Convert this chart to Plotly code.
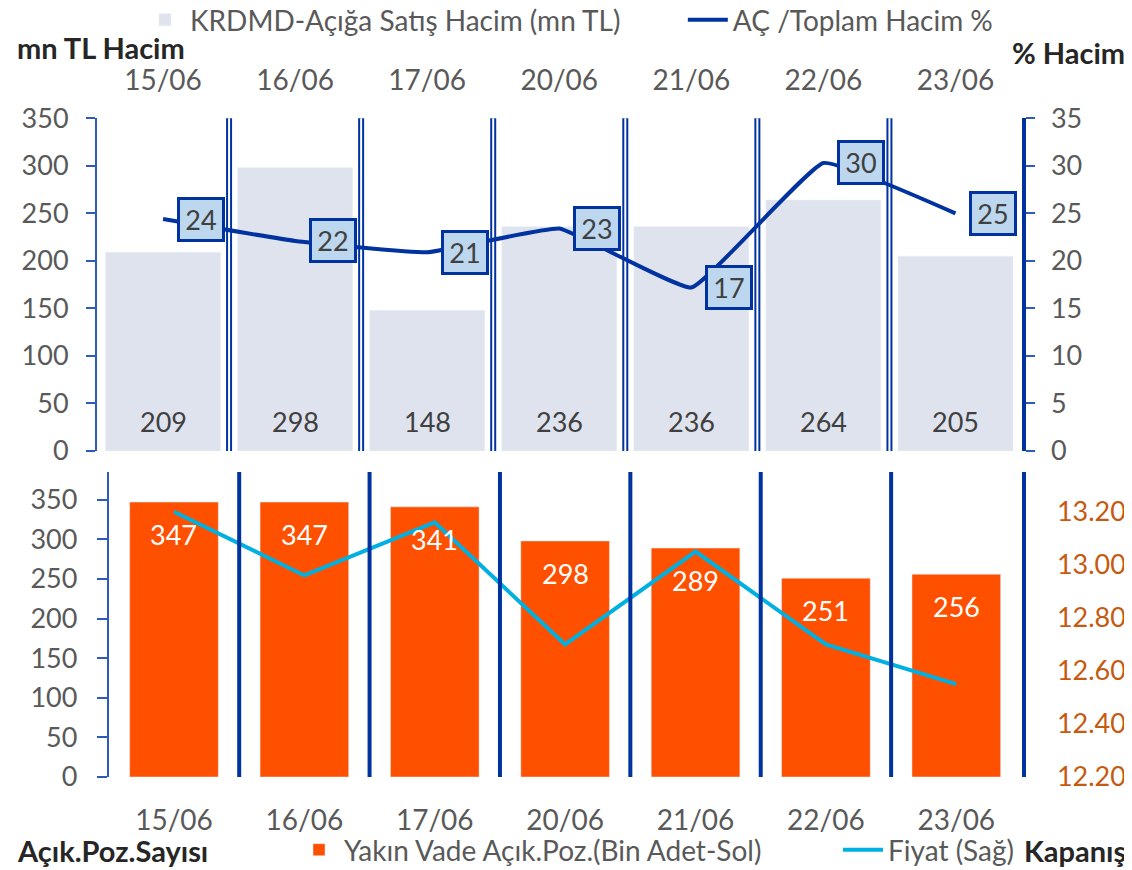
import plotly.graph_objects as go

# dates shown on both panels
dates = ['15/06', '16/06', '17/06', '20/06', '21/06', '22/06', '23/06']

# top panel: short selling volume (mn TL) and share of total volume (%)
short_volume = [209, 298, 148, 236, 236, 264, 205]
short_ratio = [24.4, 22.1, 20.9, 23.4, 17.2, 30.3, 25.0]

# bottom panel: open positions (thousand contracts) and closing price
open_pos = [347, 347, 341, 298, 289, 251, 256]
close_price = [13.20, 12.96, 13.16, 12.70, 13.05, 12.70, 12.55]

W, H = 1132, 870
OFF = 8  # page body margin
FONT = 'Lato'
DARK_BLUE = '#0033A0'
AXIS_BLUE = '#2E5BBA'
GRAY = '#595959'
TXT = '#404040'
NB = '\u00a0'  # spacing between legend entries

xs = list(range(len(dates)))


def px_x(p):
    return (p - OFF) / W


def px_y(p):
    return 1 - (p - OFF) / H


fig = go.Figure()

fig.add_trace(go.Bar(
    x=xs, y=short_volume, name='KRDMD-Açığa Satış Hacim (mn TL)' + NB * 8,
    marker_color='#DFE3EE', width=0.87, xaxis='x', yaxis='y', legend='legend'))
fig.add_trace(go.Scatter(
    x=xs, y=short_ratio, name='AÇ /Toplam Hacim %', mode='lines',
    line=dict(color=DARK_BLUE, width=4, shape='spline', smoothing=0.3),
    xaxis='x', yaxis='y2', legend='legend'))

fig.add_trace(go.Bar(
    x=xs, y=open_pos, name='Yakın Vade Açık.Poz.(Bin Adet-Sol)' + NB * 10,
    marker_color='#FF5000', width=0.68, xaxis='x2', yaxis='y3', legend='legend2'))
fig.add_trace(go.Scatter(
    x=xs, y=close_price, name='Fiyat (Sağ)', mode='lines',
    line=dict(color='#00B0E0', width=4),
    xaxis='x2', yaxis='y4', legend='legend2'))

top_x = [px_x(97), px_x(1021.5)]
bot_x = [px_x(108.8), px_x(1021.5)]
top_y = [px_y(451), px_y(118.3)]
bot_y = [px_y(777), px_y(472)]

tick_font = dict(family=FONT, size=27, color=GRAY)
date_font = dict(family=FONT, size=28, color=GRAY)

fig.update_layout(
    width=W, height=H,
    margin=dict(l=0, r=0, t=0, b=0, autoexpand=False),
    plot_bgcolor='white', paper_bgcolor='white',
    font=dict(family=FONT, size=27, color=GRAY),
    barmode='overlay',
    xaxis=dict(domain=top_x, anchor='y', range=[-0.5, 6.5], side='top',
               tickvals=xs, ticktext=dates, ticks='', showgrid=False, automargin=False,
               zeroline=False, ticklabelstandoff=22, tickfont=date_font),
    yaxis=dict(domain=top_y, anchor='x', range=[0, 350], dtick=50, automargin=False,
               showgrid=False, zeroline=False, showline=True, linewidth=2,
               linecolor=AXIS_BLUE, ticks='outside', ticklen=9, tickwidth=2,
               tickcolor=AXIS_BLUE, tickfont=tick_font, ticklabelstandoff=12),
    yaxis2=dict(overlaying='y', anchor='x', side='right', range=[0, 35], dtick=5,
                showgrid=False, zeroline=False, showline=True, linewidth=4,
                linecolor=DARK_BLUE, ticks='outside', ticklen=9, tickwidth=2,
                tickcolor=AXIS_BLUE, tickfont=tick_font, ticklabelstandoff=11,
                automargin=False),
    xaxis2=dict(domain=bot_x, anchor='y3', range=[-0.5, 6.5], side='bottom',
                tickvals=xs, ticktext=dates, ticks='', showgrid=False, automargin=False,
                zeroline=False, ticklabelstandoff=24, tickfont=date_font),
    yaxis3=dict(domain=bot_y, anchor='x2', range=[0, 385], dtick=50, automargin=False,
                showgrid=False, zeroline=False, showline=True, linewidth=2,
                linecolor=AXIS_BLUE, ticks='outside', ticklen=10, tickwidth=2,
                tickcolor=AXIS_BLUE, tickfont=tick_font, ticklabelstandoff=14),
    yaxis4=dict(overlaying='y3', anchor='x2', side='right', range=[12.2, 13.35],
                tick0=12.2, dtick=0.2, tickformat='.2f', showgrid=False, automargin=False,
                zeroline=False, showline=True, linewidth=4, linecolor=DARK_BLUE,
                ticks='', tickfont=dict(family=FONT, size=27, color='#C55A11'),
                ticklabelstandoff=26),
    legend=dict(orientation='h', x=px_x(140), xanchor='left', y=px_y(20),
                yanchor='middle', font=dict(family=FONT, size=28, color=GRAY),
                bgcolor='rgba(0,0,0,0)', itemwidth=40),
    legend2=dict(orientation='h', x=px_x(294), xanchor='left', y=px_y(850),
                 yanchor='middle', font=dict(family=FONT, size=28, color=GRAY),
                 bgcolor='rgba(0,0,0,0)', itemwidth=40),
)

# category separators: double lines on top, thick single lines at the bottom
for i in xs[:-1]:
    fig.add_shape(type='line', xref='x', yref='y domain', x0=i + 0.5, x1=i + 0.5,
                  y0=0, y1=1, line=dict(color=DARK_BLUE, width=6), layer='below')
    fig.add_shape(type='line', xref='x', yref='y domain', x0=i + 0.5, x1=i + 0.5,
                  y0=0, y1=1, line=dict(color='white', width=2), layer='below')
    fig.add_shape(type='line', xref='x2', yref='y3 domain', x0=i + 0.5, x1=i + 0.5,
                  y0=0, y1=1, line=dict(color=DARK_BLUE, width=4), layer='above')

# data labels
for i, v in enumerate(short_volume):
    fig.add_annotation(x=i, y=0, xref='x', yref='y', text=str(v), showarrow=False,
                       yanchor='bottom', yshift=11,
                       font=dict(family=FONT, size=27, color=TXT))
for i, v in enumerate(short_ratio):
    fig.add_annotation(x=i, y=v, xref='x', yref='y2', text=f'{v:.0f}', showarrow=False,
                       xshift=38, bgcolor='#BDD7EE', bordercolor=DARK_BLUE,
                       borderwidth=3, borderpad=0, width=42, height=39,
                       font=dict(family=FONT, size=27, color=TXT))
for i, v in enumerate(open_pos):
    fig.add_annotation(x=i, y=v, xref='x2', yref='y3', text=str(v), showarrow=False,
                       yanchor='top', yshift=-14,
                       font=dict(family=FONT, size=27, color='white'))

# axis titles
titles = [
    ('mn TL Hacim', 15, 48, 'left', 'rgba(0,0,0,0)'),
    ('% Hacim', 1127, 52, 'right', 'rgba(0,0,0,0)'),
    ('Açık.Poz.Sayısı', 15, 850, 'left', 'rgba(0,0,0,0)'),
    ('Kapanış', 1022, 850, 'left', 'white'),
]
for txt, x, y, anchor, bg in titles:
    fig.add_annotation(x=px_x(x), y=px_y(y), xref='paper', yref='paper',
                       text=f'<b>{txt}</b>', showarrow=False, xanchor=anchor,
                       yanchor='middle', bgcolor=bg,
                       font=dict(family=FONT, size=29, color='#262626'))

fig.write_html('out.html')
